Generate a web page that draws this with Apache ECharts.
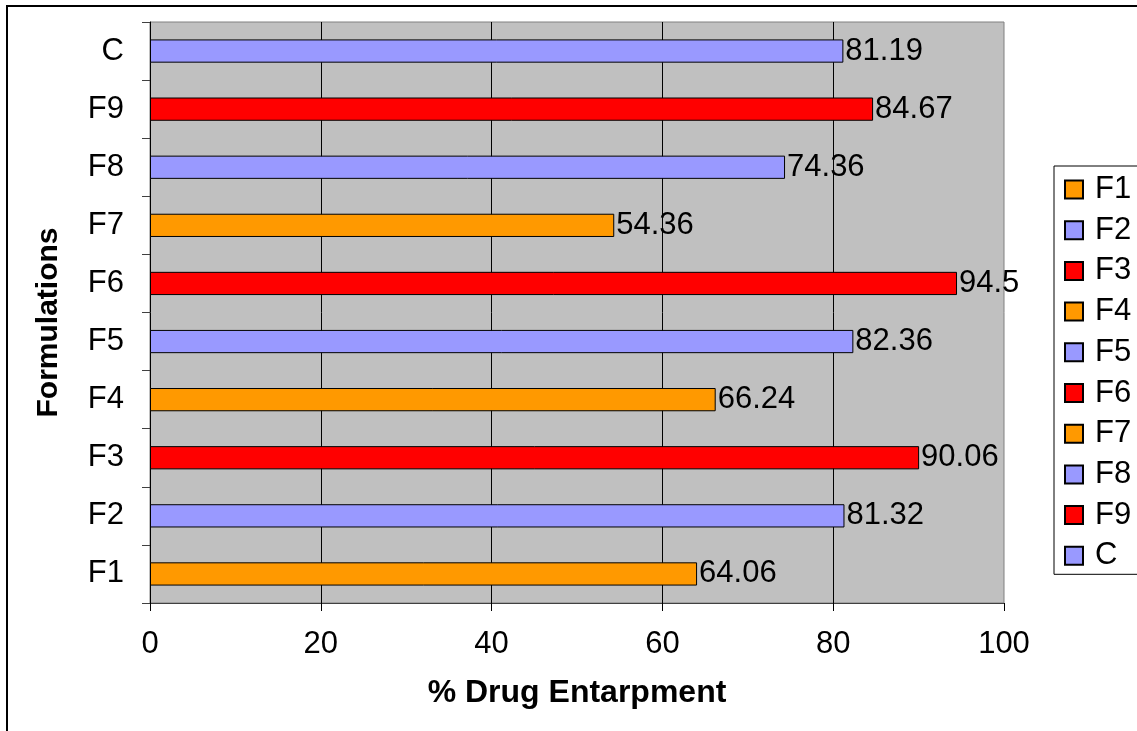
<!DOCTYPE html>
<html>
<head>
<meta charset="utf-8">
<script src="https://cdn.jsdelivr.net/npm/echarts@6/dist/echarts.min.js"></script>
<style>
  html, body { margin: 0; padding: 0; background: #fff; }
  #chart { width: 1137px; height: 731px; }
</style>
</head>
<body>
<div id="chart"></div>
<script>
// Formulation names, bottom to top on the category axis
const categories = ['F1', 'F2', 'F3', 'F4', 'F5', 'F6', 'F7', 'F8', 'F9', 'C'];
// % drug entrapment for each formulation
const values = [64.06, 81.32, 90.06, 66.24, 82.36, 94.5, 54.36, 74.36, 84.67, 81.19];
// Bar fill per formulation
const colors = ['#FF9900', '#9999FF', '#FF0000', '#FF9900', '#9999FF', '#FF0000', '#FF9900', '#9999FF', '#FF0000', '#9999FF'];
// Value axis tick labels
const xTicks = [0, 20, 40, 60, 80, 100];

const FONT = '"Liberation Sans", Arial, sans-serif';

// One series per formulation so every bar gets its own legend entry;
// they share a stack so each sits centred in its own category band.
const series = categories.map((name, i) => ({
  name: name,
  type: 'bar',
  stack: 'all',
  barWidth: '40%',
  data: categories.map((_, j) => (j === i ? values[i] : '-')),
  itemStyle: { color: colors[i], borderColor: '#000', borderWidth: 1 },
  label: {
    show: true,
    position: 'right',
    distance: 2,
    color: '#000',
    fontFamily: FONT,
    fontSize: 31
  }
}));

const chart = echarts.init(document.getElementById('chart'));
chart.setOption({
  animation: false,
  backgroundColor: '#fff',
  graphic: [{
    type: 'rect',
    shape: { x: 7, y: 6, width: 1300, height: 900 },
    style: { fill: 'none', stroke: '#000', lineWidth: 2 },
    z: 100
  }],
  grid: {
    left: 150, right: 133, top: 22, bottom: 128,
    show: true,
    backgroundColor: '#C0C0C0',
    borderColor: '#808080',
    borderWidth: 1
  },
  legend: {
    orient: 'vertical',
    left: 1054,
    top: 166,
    data: categories,
    icon: 'rect',
    itemWidth: 18,
    itemHeight: 18,
    itemGap: 9.7,
    padding: [8, 20, 3, 10],
    borderColor: '#000',
    borderWidth: 1,
    backgroundColor: '#fff',
    textStyle: {
      color: '#000', fontFamily: FONT, fontSize: 31, lineHeight: 31,
      padding: [0, 0, 0, 7]
    }
  },
  xAxis: {
    type: 'value',
    min: xTicks[0],
    max: xTicks[xTicks.length - 1],
    interval: 20,
    name: '% Drug Entarpment',
    nameLocation: 'middle',
    nameGap: 74,
    nameTextStyle: { color: '#000', fontFamily: FONT, fontSize: 32, fontWeight: 'bold' },
    axisLine: { show: true, lineStyle: { color: '#404040', width: 1 } },
    axisTick: { show: true, length: 8, lineStyle: { color: '#000' } },
    axisLabel: { color: '#000', fontFamily: FONT, fontSize: 31, margin: 26 },
    splitLine: {
      show: true,
      showMinLine: false,
      showMaxLine: false,
      lineStyle: { color: '#000', width: 1 }
    }
  },
  yAxis: {
    type: 'category',
    data: categories,
    name: 'Formulations',
    nameLocation: 'middle',
    nameGap: 86,
    nameTextStyle: {
      color: '#000', fontFamily: FONT, fontSize: 30, fontWeight: 'bold',
      padding: [0, 20, 0, 0]
    },
    axisLine: { show: true, lineStyle: { color: '#000', width: 1 } },
    axisTick: { show: true, length: 8, lineStyle: { color: '#404040' } },
    axisLabel: { color: '#000', fontFamily: FONT, fontSize: 31, margin: 26 }
  },
  series: series
});
</script>
</body>
</html>
